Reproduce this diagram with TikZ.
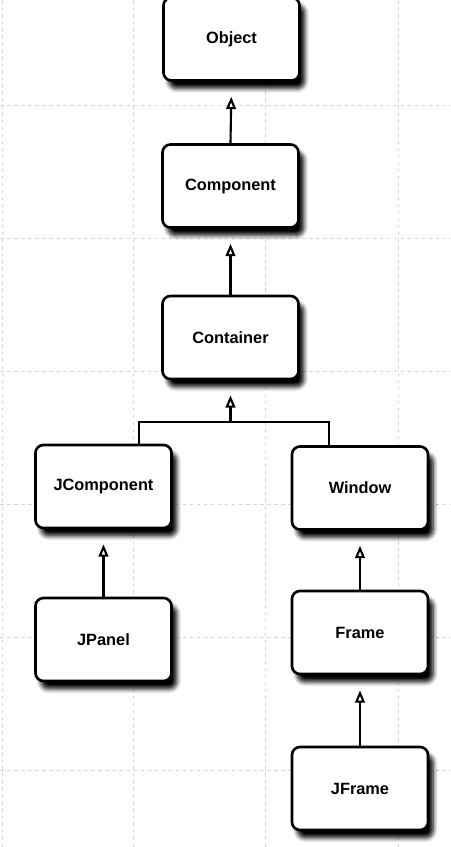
\documentclass[tikz,border=0pt]{standalone}
\usepackage{fontspec}
\setmainfont{Liberation Sans}
\usetikzlibrary{arrows.meta,shadows.blur}
\tikzset{
  classbox/.style={draw, line width=1.5pt, fill=white, rounded corners=4.5pt,
    minimum width=2.72cm, minimum height=1.66cm, font=\fontsize{9.3}{11}\selectfont\bfseries,
    blur shadow={shadow xshift=3pt, shadow yshift=-4.5pt, shadow blur radius=2.5pt, shadow blur steps=6, shadow opacity=100}},
  inherit/.style={line width=1.2pt, -{Triangle[open, length=7pt, width=5.5pt, line width=1.2pt]}, shorten >=0.3cm},
  gridline/.style={black!16, line width=0.5pt, dash pattern=on 2pt off 2pt}
}
\begin{document}
\begin{tikzpicture}
			\useasboundingbox (0, 0) rectangle (9, -16.94);
			
			%%%%% GRID %%%%%
			\foreach \gx in {0.05, 2.66, 5.3, 7.96}
			  \draw[gridline] (\gx, 0) -- (\gx, -16.94);
			\foreach \gy in {-2.1, -4.76, -7.42, -10.08, -12.74, -15.4}
			  \draw[gridline] (0, \gy) -- (9, \gy);
			
			%%%%% CLASSES %%%%%
			\node[classbox] (object) at (4.63, -0.78) {Object};
			\node[classbox] (component) at (4.61, -3.72) {Component};
			\node[classbox] (container) at (4.61, -6.75) {Container};
			
			\node[classbox] (jcomponent) at (2.07, -9.73) {JComponent};
			\node[classbox] (jpanel) at (2.07, -12.79) {JPanel};
			
			\node[classbox] (window) at (7.2, -9.76) {Window};
			\node[classbox] (frame) at (7.2, -12.65) {Frame};
			\node[classbox] (jframe) at (7.2, -15.77) {JFrame};
			
			%%%%% INHERITANCE %%%%%
			\draw[inherit] (component.north) -- (object.south);
			\draw[inherit] (container.north) -- (component.south);
			\draw[inherit] (jpanel.north) -- (jcomponent.south);
			\draw[inherit] (frame.north) -- (window.south);
			\draw[inherit] (jframe.north) -- (frame.south);
			
			\coordinate (split) at (4.61, -8.44);
			\draw[line width=1.2pt] ([xshift=0.71cm]jcomponent.north) |- (split) -| ([xshift=-0.62cm]window.north);
			\draw[inherit] (split) -- (container.south);
\end{tikzpicture}
\end{document}
